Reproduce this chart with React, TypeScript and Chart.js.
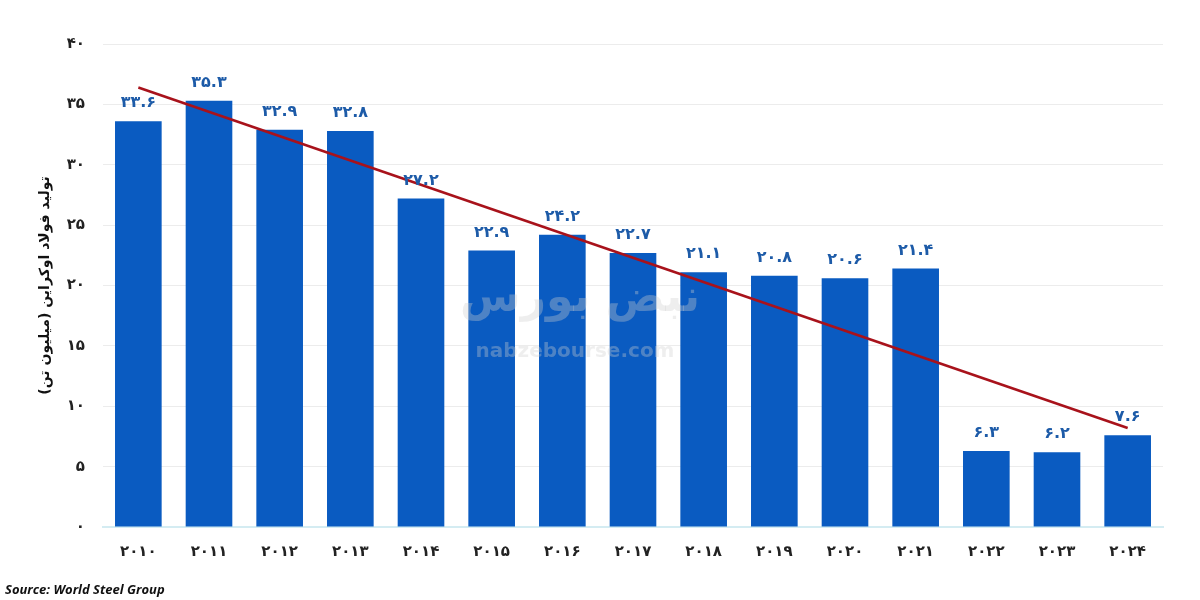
import React, { useEffect, useRef } from "react";
import { Chart, registerables } from "chart.js";

Chart.register(...registerables);

const years = ["2010","2011","2012","2013","2014","2015","2016","2017","2018","2019","2020","2021","2022","2023","2024"];
const production = [33.6, 35.3, 32.9, 32.8, 27.2, 22.9, 24.2, 22.7, 21.1, 20.8, 20.6, 21.4, 6.3, 6.2, 7.6];
const trendLine = [36.4, null, null, null, null, null, null, null, null, null, null, null, null, null, 8.2];
const yTicks = [0, 5, 10, 15, 20, 25, 30, 35, 40];
const yTitle = "تولید فولاد اوکراین (میلیون تن)";
const sourceText = "Source: World Steel Group";

const faDigits = "۰۱۲۳۴۵۶۷۸۹";
const toFa = (s: string | number) => String(s).replace(/[0-9]/g, (d) => faDigits[Number(d)]);

const FONT = "'DejaVu Sans', 'Noto Sans', sans-serif";

export default function App() {
  const ref = useRef<HTMLCanvasElement | null>(null);

  useEffect(() => {
    document.body.style.margin = "0";
    const canvas = ref.current;
    if (!canvas) return;

    const labelsPlugin = {
      id: "barLabels",
      afterDatasetsDraw(chart: any) {
        const ctx = chart.ctx;
        const meta = chart.getDatasetMeta(0);
        ctx.save();
        ctx.font = `bold 16px ${FONT}`;
        ctx.fillStyle = "#1d5ba8";
        ctx.textAlign = "center";
        ctx.textBaseline = "bottom";
        meta.data.forEach((bar: any, i: number) => {
          ctx.fillText(toFa(production[i].toFixed(1)), bar.x, bar.y - 10);
        });
        ctx.restore();
      },
    };

    const extrasPlugin = {
      id: "extras",
      afterDraw(chart: any) {
        const ctx = chart.ctx;
        ctx.save();
        // watermark
        ctx.textAlign = "center";
        ctx.textBaseline = "middle";
        ctx.fillStyle = "rgba(205,205,205,0.35)";
        ctx.font = `bold 44px ${FONT}`;
        ctx.fillText("نبض بورس", 580, 300);
        ctx.font = `bold 20px ${FONT}`;
        ctx.fillText("nabzebourse.com", 575, 352);
        // source
        ctx.textAlign = "left";
        ctx.textBaseline = "middle";
        ctx.fillStyle = "#111";
        ctx.font = `italic bold 13px 'Open Sans', sans-serif`;
        ctx.fillText(sourceText, 5, 590);
        ctx.restore();
      },
    };

    const chart = new Chart(canvas, {
      type: "bar",
      data: {
        labels: years,
        datasets: [
          {
            type: "bar",
            data: production,
            backgroundColor: "#0a5bc1",
            barPercentage: 0.66,
            categoryPercentage: 1,
            order: 2,
          } as any,
          {
            type: "line",
            data: trendLine as any,
            borderColor: "#a8121b",
            borderWidth: 2.5,
            pointRadius: 0,
            spanGaps: true,
            fill: false,
            order: 1,
          } as any,
        ],
      },
      options: {
        animation: false,
        responsive: true,
        maintainAspectRatio: false,
        layout: { padding: { top: 44, right: 37, left: 37, bottom: 31 } },
        plugins: {
          legend: { display: false },
          tooltip: { enabled: false },
        },
        scales: {
          x: {
            grid: { display: false },
            border: { color: "#d4ecf2", width: 2 },
            ticks: {
              color: "#222",
              font: { family: FONT, size: 15, weight: "bold" },
              padding: 8,
              callback: (_v: any, i: number) => toFa(years[i]),
            },
          },
          y: {
            min: 0,
            max: 40,
            afterBuildTicks: (s: any) => {
              s.ticks = yTicks.map((v) => ({ value: v }));
            },
            afterFit: (s: any) => {
              s.width = 66;
            },
            grid: { color: "#ececec", drawTicks: false },
            border: { display: false },
            ticks: {
              color: "#222",
              padding: 18,
              font: { family: FONT, size: 15, weight: "bold" },
              callback: (v: any) => toFa(v),
            },
            title: {
              display: true,
              text: yTitle,
              color: "#111",
              font: { family: FONT, size: 14, weight: "bold" },
              padding: { top: 0, bottom: 0 },
            },
          },
        },
      },
      plugins: [labelsPlugin, extrasPlugin],
    });

    return () => chart.destroy();
  }, []);

  return (
    <div style={{ position: "absolute", left: 0, top: 0, width: 1200, height: 600, background: "#fff" }}>
      <canvas ref={ref} />
    </div>
  );
}
